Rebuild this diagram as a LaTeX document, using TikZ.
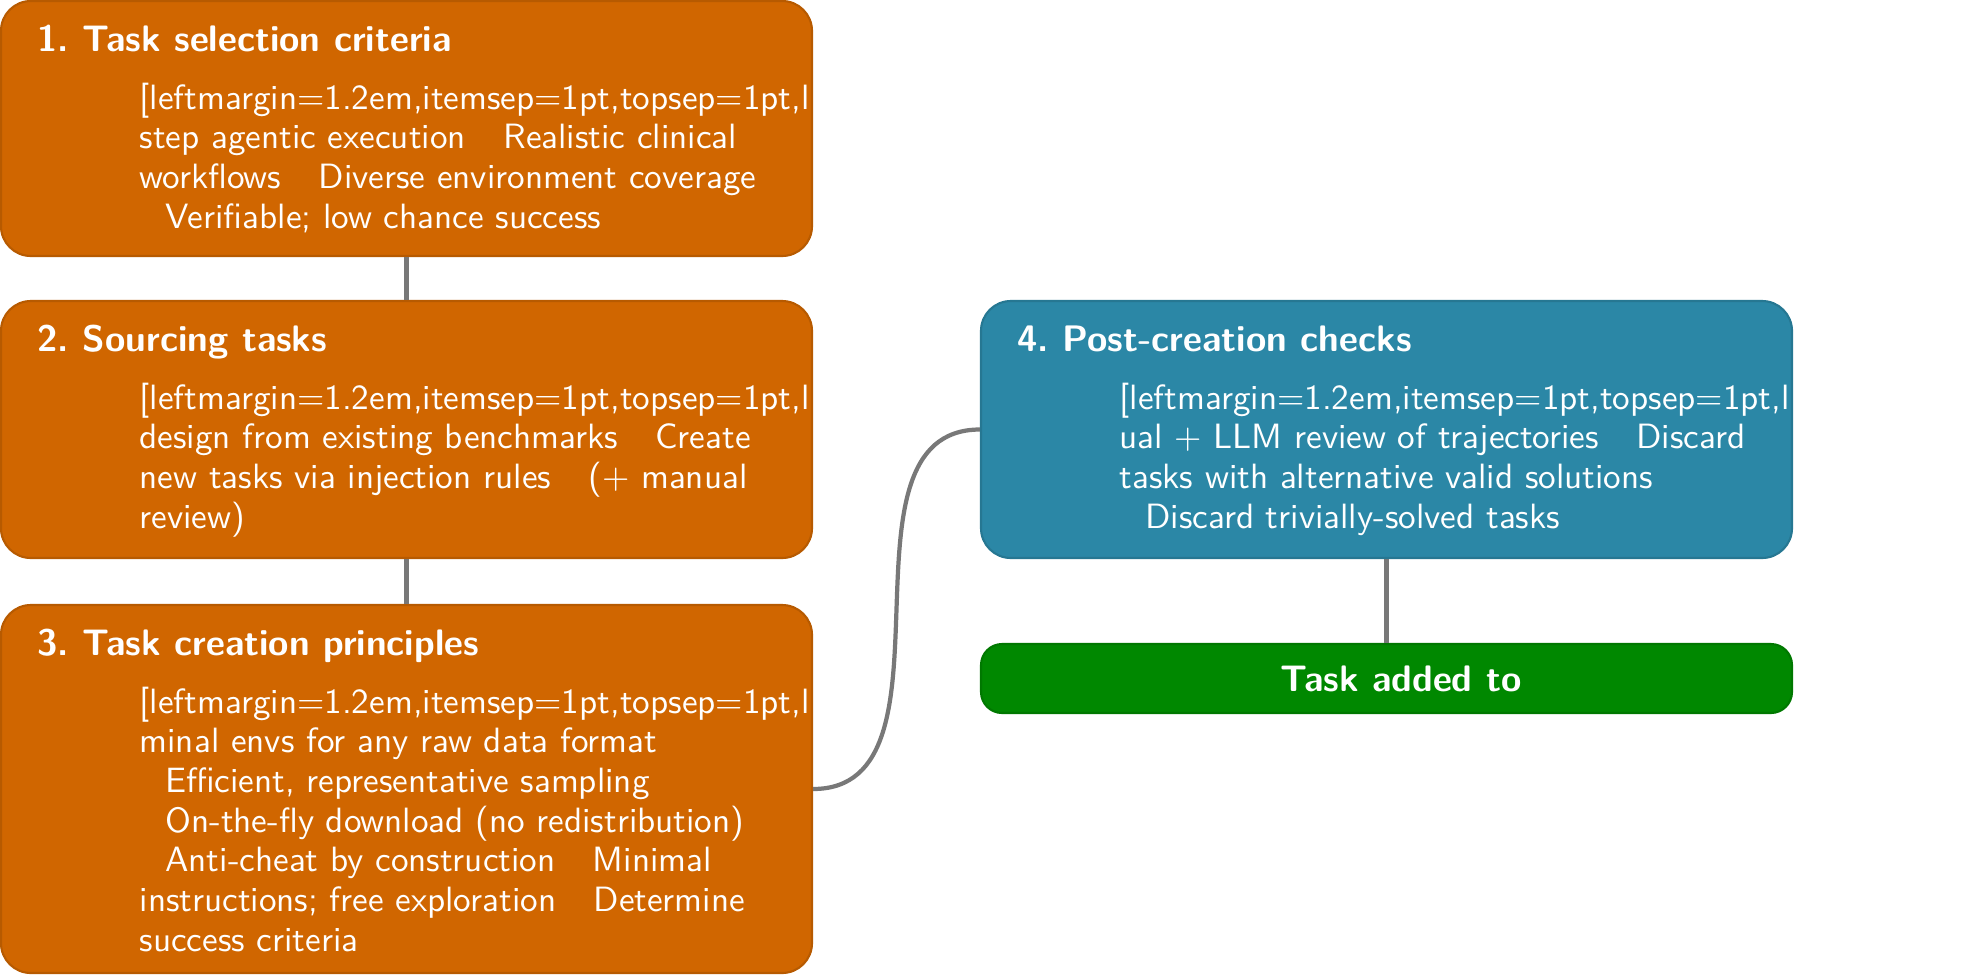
\documentclass[tikz,border=0pt]{standalone}
\usetikzlibrary{positioning}

\definecolor{stageorange}{RGB}{208,102,0}
\definecolor{stageblue}{RGB}{43,135,166}
\definecolor{stagegreen}{RGB}{0,136,0}
\definecolor{linkgray}{RGB}{120,120,120}

\tikzset{
	stage/.style={draw=#1!88!black, fill=#1, line width=0.6pt, rounded corners=8.5pt,
		minimum width=8.11cm, inner sep=0pt},
	stagetitle/.style={anchor=base west, inner sep=0pt, text=white,
		font=\fontsize{10.5}{12}\selectfont\sffamily\bfseries},
	stagetext/.style={anchor=north west, inner sep=0pt, text=white, align=left,
		font=\fontsize{10}{11.3}\selectfont\sffamily},
	link/.style={draw=linkgray, line width=1.2pt},
}
\newcommand{\itemgap}{\hspace*{7.3pt}}

\begin{document}
\begin{tikzpicture}
	\useasboundingbox (0,0) rectangle (19.88,-9.75);

	\node[stage=stageorange, minimum height=2.55cm] (crit) at (4.065,-1.285) {};
	\node[stage=stageorange, minimum height=2.57cm] (src) at (4.065,-4.295) {};
	\node[stage=stageorange, minimum height=3.68cm] (make) at (4.065,-7.89) {};
	\node[stage=stageblue, minimum height=2.57cm] (post) at (13.865,-4.295) {};
	\node[stage=stagegreen, minimum height=0.69cm, rounded corners=6pt, text=white,
		font=\fontsize{10.5}{12}\selectfont\sffamily\bfseries] (added) at (13.865,-6.785)
		{\hspace*{8.2pt}Task added to};

	\foreach \i / \j in {
	crit/src,
	src/make,
	post/added}
	{
		\path[link] (\i) edge (\j);
	};
	\draw[link] (make.east) to[out=0,in=180] (post.west);

	% 1
	\node[stagetitle] (critT) at ([shift={(0.37,-0.52)}]crit.north west) {1.\ Task selection criteria};
	\node[stagetext] (critB) at ([shift={(1.39,-0.82)}]crit.north west) {%
		[leftmargin=1.2em,itemsep=1pt,topsep=1pt,l\\
		step agentic execution \itemgap Realistic clinical\\
		workflows \itemgap Diverse environment coverage\\
		\itemgap Verifiable; low chance success};

	% 2
	\node[stagetitle] (srcT) at ([shift={(0.37,-0.52)}]src.north west) {2.\ Sourcing tasks};
	\node[stagetext] (srcB) at ([shift={(1.39,-0.82)}]src.north west) {%
		[leftmargin=1.2em,itemsep=1pt,topsep=1pt,l\\
		design from existing benchmarks \itemgap Create\\
		new tasks via injection rules \itemgap (+ manual\\
		review)};

	% 3
	\node[stagetitle] (makeT) at ([shift={(0.37,-0.52)}]make.north west) {3.\ Task creation principles};
	\node[stagetext] (makeB) at ([shift={(1.39,-0.82)}]make.north west) {%
		[leftmargin=1.2em,itemsep=1pt,topsep=1pt,l\\
		minal envs for any raw data format\\
		\itemgap Efficient, representative sampling\\
		\itemgap On-the-fly download (no redistribution)\\
		\itemgap Anti-cheat by construction \itemgap Minimal\\
		instructions; free exploration \itemgap Determine\\
		success criteria};

	% 4
	\node[stagetitle] (postT) at ([shift={(0.37,-0.52)}]post.north west) {4.\ Post-creation checks};
	\node[stagetext] (postB) at ([shift={(1.39,-0.82)}]post.north west) {%
		[leftmargin=1.2em,itemsep=1pt,topsep=1pt,l\\
		ual + LLM review of trajectories \itemgap Discard\\
		tasks with alternative valid solutions\\
		\itemgap Discard trivially-solved tasks};
\end{tikzpicture}
\end{document}
